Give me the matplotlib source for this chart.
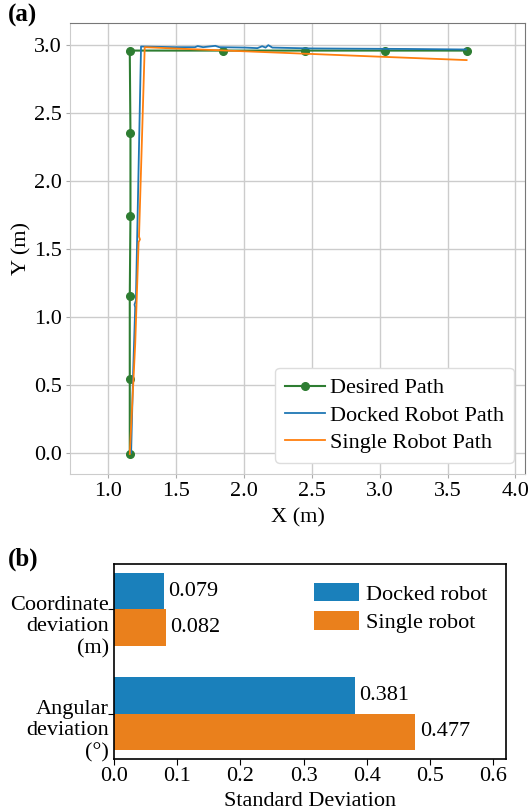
import matplotlib.pyplot as plt
from matplotlib.transforms import ScaledTranslation, blended_transform_factory

plt.rcParams['font.family'] = ['Liberation Serif', 'DejaVu Serif']
plt.rcParams['font.size'] = 16

# (a) paths
desired_x = [1.16, 1.16, 1.16, 1.165, 1.165, 1.16, 1.85, 2.45, 3.04, 3.64]
desired_y = [-0.01, 0.54, 1.15, 1.74, 2.35, 2.96, 2.96, 2.96, 2.96, 2.96]

docked_x = [1.17, 1.185, 1.20, 1.195, 1.205, 1.243, 1.50, 1.64, 1.66, 1.70, 1.79, 1.82,
            2.01, 2.10, 2.135, 2.16, 2.18, 2.21, 2.49, 2.80, 3.20, 3.635]
docked_y = [0.00, 0.60, 1.07, 1.09, 1.12, 2.99, 2.985, 2.985, 2.993, 2.985, 2.995, 2.985,
            2.982, 2.978, 2.992, 2.982, 3.00, 2.982, 2.976, 2.974, 2.972, 2.968]

single_x = [1.16, 1.20, 1.225, 1.235, 1.228, 1.27, 1.50, 2.00, 2.50, 3.00, 3.64]
single_y = [-0.01, 0.80, 1.55, 1.57, 1.59, 2.985, 2.975, 2.955, 2.935, 2.915, 2.89]

# (b) standard deviations
categories = ['Coordinate\ndeviation\n(m)', 'Angular\ndeviation\n(°)']
docked_std = [0.079, 0.381]
single_std = [0.082, 0.477]

fig = plt.figure(figsize=(5.28, 8.10), dpi=100)

ax1 = fig.add_axes([0.1326, 0.4148, 0.8617, 0.5568])
ax1.plot(desired_x, desired_y, color='#2e7d32', marker='o', markersize=5.5, lw=1.5,
         label='Desired Path', zorder=3)
ax1.plot(docked_x, docked_y, color='#1f77b4', lw=1.3, label='Docked Robot Path', zorder=4)
ax1.plot(single_x, single_y, color='#ff7f0e', lw=1.3, label='Single Robot Path', zorder=4)
ax1.set_xlim(0.72, 4.07)
ax1.set_ylim(-0.157, 3.163)
ax1.set_xticks([1.0, 1.5, 2.0, 2.5, 3.0, 3.5, 4.0])
ax1.set_yticks([0.0, 0.5, 1.0, 1.5, 2.0, 2.5, 3.0])
ax1.grid(True, color='#cccccc', lw=1.0)
ax1.set_axisbelow(True)
ax1.set_xlabel('X (m)', labelpad=5)
ax1.set_ylabel('Y (m)', labelpad=2)
ax1.tick_params(length=3, color='#aaaaaa', pad=3)
for s in ['left', 'bottom']:
    ax1.spines[s].set_color('#cccccc')
for s in ['top', 'right']:
    ax1.spines[s].set_color('#777777')
leg1 = ax1.legend(loc='lower right', handlelength=1.8, handletextpad=0.2,
                  labelspacing=0.3, borderpad=0.45, fancybox=True, framealpha=1.0,
                  edgecolor='#dddddd', borderaxespad=0.5)
fig.text(8 / 528, 1 - 4 / 810, '(a)', fontsize=18, fontweight='bold', va='top', ha='left')

ax2 = fig.add_axes([0.216, 0.063, 0.742, 0.2407])
pos = [1, 0]
h = 0.35
b1 = ax2.barh([p + h / 2 for p in pos], docked_std, height=h, color='#1a80bb',
              label='Docked robot')
b2 = ax2.barh([p - h / 2 for p in pos], single_std, height=h, color='#ea801c',
              label='Single robot')
for bars in (b1, b2):
    for rect, v in zip(bars, bars.datavalues):
        ax2.text(v + 0.007, rect.get_y() + rect.get_height() / 2, f'{v:.3f}',
                 va='center', ha='left')
ax2.set_xlim(0, 0.62)
ax2.set_xticks([0.0, 0.1, 0.2, 0.3, 0.4, 0.5, 0.6])
ax2.set_yticks(pos)
ax2.set_yticklabels(['' for _ in categories])
# category labels sit a bit below their tick, as in the original
lab_tr = blended_transform_factory(ax2.transAxes, ax2.transData) + \
    ScaledTranslation(0, -0.175, fig.dpi_scale_trans)
for p, cat in zip(pos, categories):
    ax2.text(-0.013, p, cat, transform=lab_tr, ha='right', va='center',
             multialignment='right', linespacing=1.18)
ax2.set_xlabel('Standard Deviation', labelpad=4)
ax2.tick_params(length=4, pad=2)
for s in ax2.spines.values():
    s.set_color('black')
    s.set_linewidth(1.2)
ax2.legend(loc='upper right', frameon=False, handlelength=2.0, handleheight=0.9,
           handletextpad=0.3, labelspacing=0.3, borderaxespad=0.45)
fig.text(8 / 528, 1 - 548 / 810, '(b)', fontsize=18, fontweight='bold', va='top', ha='left')

fig.savefig('out.png', dpi=100)
